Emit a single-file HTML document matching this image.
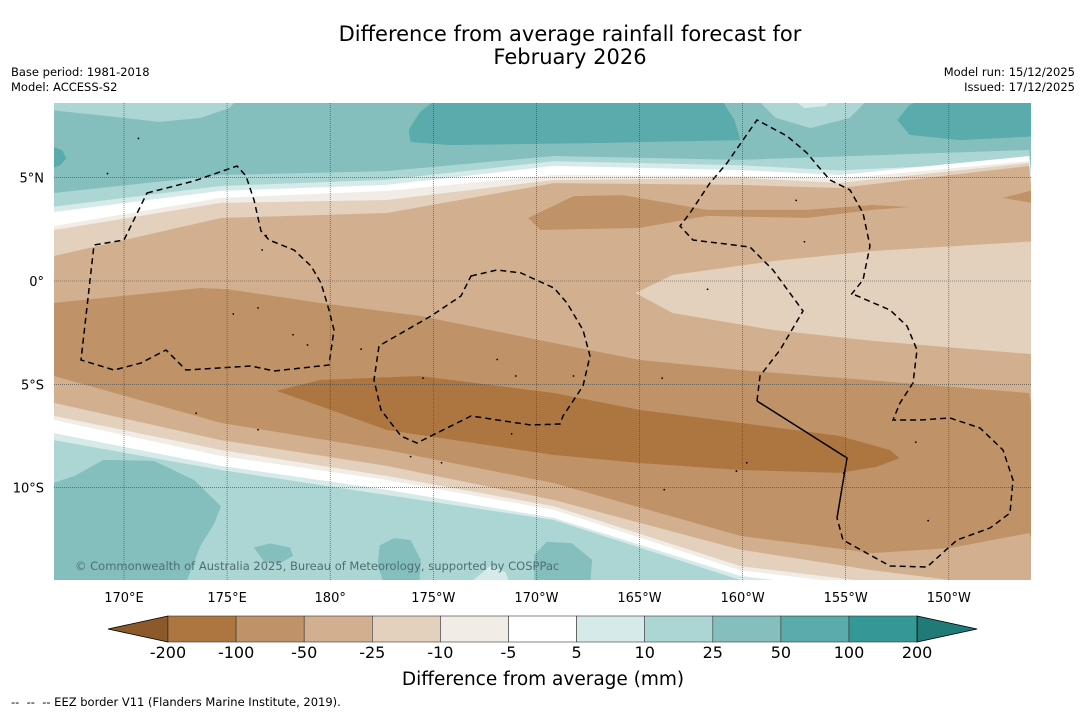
<!DOCTYPE html>
<html><head><meta charset="utf-8">
<style>
body{margin:0;background:#fff;width:1085px;height:713px;overflow:hidden;font-family:"DejaVu Sans","Liberation Sans",sans-serif;}
svg{position:absolute;left:0;top:0;}
</style></head>
<body>
<svg id="chart" width="1085" height="713" viewBox="0 0 1085 713">
<text x="570" y="41" text-anchor="middle" font-size="21" fill="#000">Difference from average rainfall forecast for</text>
<text x="570" y="64" text-anchor="middle" font-size="21" fill="#000">February 2026</text>
<text x="11" y="76" font-size="11.5">Base period: 1981-2018</text>
<text x="11" y="91" font-size="11.5">Model: ACCESS-S2</text>
<text x="1075" y="76" font-size="11.5" text-anchor="end">Model run: 15/12/2025</text>
<text x="1075" y="91" font-size="11.5" text-anchor="end">Issued: 17/12/2025</text>
<defs><clipPath id="mapclip"><rect x="54" y="103" width="977" height="477"/></clipPath></defs>
<g id="map" clip-path="url(#mapclip)"></g>
<g id="eez" clip-path="url(#mapclip)" fill="none" stroke="#000" stroke-width="1.5">
<path stroke-dasharray="6,4" d="M147,193 L194,181 L237,166 L246,176 L254,200 L261,231 L269,240 L294,250 L311,266 L321,283 L329,310 L334,330 L329,365 L274,371 L251,366 L186,370 L166,350 L141,363 L114,370 L81,360 L94,245 L124,240 Z"/>
<path stroke-dasharray="6,4" d="M471,276 L497,270 L521,273 L554,288 L567,303 L583,330 L590,356 L583,386 L563,416 L560,424 L531,425 L471,416 L417,443 L401,436 L381,410 L374,380 L379,346 L384,343 L431,316 L461,296 Z"/>
<path stroke-dasharray="6,4" d="M757,401 L760,376 L780,350 L803,311 L773,270 L750,247 L693,240 L680,226 L690,213 L710,183 L727,163 L750,130 L757,120 L787,136 L807,153 L817,165 L830,180 L850,190 L863,213 L870,246 L863,280 L850,296 M855,295 L890,310 L907,326 L917,350 L913,383 L900,403 L893,420 L920,420 L950,418 L980,428 L1003,450 L1013,480 L1010,513 L990,528 L957,540 L927,567 L890,566 L843,540 L837,518"/>
<path d="M757,401 L847,458 L837,518"/>
</g>
<g id="grid" stroke="#444" stroke-width="0.6" stroke-dasharray="1,1" fill="none"></g>
<g id="islands" fill="#000"></g>
<text x="75" y="570" font-size="11.5" fill="#4e6f70">© Commonwealth of Australia 2025, Bureau of Meteorology, supported by COSPPac</text>
<g id="axes"></g>
<g id="cbar"></g>
<text x="543" y="685" font-size="18.5" text-anchor="middle">Difference from average (mm)</text>
<text x="11" y="706" font-size="11.5">-- &#160;-- &#160;-- EEZ border V11 (Flanders Marine Institute, 2019).</text>
</svg>
<script>
// ---- data (lon in degrees east 0-360, lat in degrees) ----
const lonTicks = [170,175,180,185,190,195,200,205,210];
const lonTickLabels = ["170°E","175°E","180°","175°W","170°W","165°W","160°W","155°W","150°W"];
const latTicks = [5,0,-5,-10];
const latTickLabels = ["5°N","0°","5°S","10°S"];
const levelLabels = ["-200","-100","-50","-25","-10","-5","5","10","25","50","100","200"];
const levelColors = ["#ad7641","#bf9367","#d2b08f","#e3d0bd","#f2ece6","#ffffff","#d6ebe9","#acd6d4","#85bfbd","#5aabab","#349896"];
const extendLow = "#8c5a2a", extendHigh = "#1f7a78";

const cTop1 = [[166.6,4.26],[174.7,5.13],[182.75,5.32],[190.85,6.05],[199.9,5.86],[213.9,6.34]];
const cTop2 = [[166.6,3.6],[174.7,4.6],[182.75,4.9],[190.85,5.8],[199.9,5.6],[204.7,5.35],[213.9,5.8]];
const cTop3 = [[166.6,3.34],[174.7,4.36],[182.75,4.65],[190.85,5.57],[199.9,5.37],[204.7,5.13],[213.9,6.05]];
const cTop4 = [[166.6,2.66],[174.7,4.02],[182.75,4.36],[190.85,5.13],[199.9,5.08],[204.7,4.95],[213.9,5.81]];
const cTop5 = [[166.6,2.47],[174.7,3.78],[182.75,3.92],[190.85,4.89],[199.9,4.99],[204.7,4.75],[213.9,5.71]];
const cTop6 = [[166.6,1.21],[174.7,3.05],[182.75,3.29],[190.85,4.74],[199.9,4.65],[204.7,4.5],[213.9,5.57]];
const cMid1 = [[166.6,-1.06],[173.7,-0.34],[175,-0.39],[179.5,-1.06],[184.35,-1.69],[190.85,-3.0],[195,-3.82],[199.9,-4.31],[204.7,-4.69],[213.9,-5.42]];
const cMid2 = [[166.6,-4.6],[174.7,-6.87],[182.75,-8.18],[190.85,-9.78],[199.9,-12.34],[206.3,-13.17],[210.05,-12.93],[213.9,-12.2]];
const cBot1 = [[166.6,-5.9],[174.7,-7.7],[182.75,-8.95],[190.85,-10.6],[199.9,-13.0],[206.3,-14.0],[213.9,-14.96]];
const cBot2 = [[166.6,-6.53],[174.7,-8.18],[182.75,-9.44],[190.85,-10.9],[199.9,-13.8],[213.9,-15.5]];
const cBot3 = [[166.6,-6.73],[174.7,-8.47],[182.75,-9.63],[190.85,-11.08],[199.9,-14.0],[213.9,-15.7]];
const cBot4 = [[166.6,-7.36],[174.7,-8.95],[182.75,-10.1],[190.85,-11.47],[199.9,-14.28],[213.9,-15.9]];
const cBot5 = [[166.6,-7.7],[174.7,-9.15],[182.75,-10.36],[190.85,-11.57],[199.9,-14.47],[213.9,-16.0]];

const blobLight = [[194.8,-0.58],[196.6,0.29],[201.5,0.97],[206.3,1.45],[214.5,1.94],[214.5,-3.58],[206.3,-2.9],[201.5,-2.37],[196.6,-1.55]];
const blobUpperBrown = [[189.6,3.05],[191.8,4.11],[194.2,4.16],[198.3,3.44],[203.1,3.44],[206.3,3.68],[208.1,3.58],[206.3,3.44],[203.1,3.05],[198.3,3.15],[195,2.57],[190.2,2.47]];
const blobRightBrown = [[212.6,4.02],[214.5,4.5],[214.5,3.7]];
const blobDarkBrown = [[177.4,-5.32],[179.5,-4.79],[184.35,-4.6],[190.85,-5.42],[195,-6.24],[199.9,-6.87],[204.7,-7.5],[207.15,-8.18],[207.6,-8.57],[206.5,-9.0],[204.7,-9.29],[199.9,-9.15],[195,-8.81],[190.85,-8.42],[182.75,-7.21],[179.5,-6.05]];
const blobTeal1 = [[183.8,7.3],[184.35,8.18],[185.3,8.9],[198.9,8.9],[199.6,7.8],[199.9,6.82],[193.1,6.68],[185.8,6.58],[183.9,6.73]];
const blobTeal2 = [[207.5,7.8],[208.1,8.52],[209,8.9],[214.5,8.9],[214.5,7.02],[210.55,6.82],[208.1,7.07]];
const blobTeal3 = [[166.3,6.58],[167,6.34],[167.2,5.95],[166.9,5.6],[166.3,5.37]];
const blobTopLeftLight = [[166.3,8.9],[166.3,8.28],[168.8,8.03],[171.7,7.7],[173.7,7.89],[175.1,8.37],[175.6,8.9]];
const blobTopMidLight = [[200.6,8.9],[201.6,7.9],[203.3,7.4],[205.2,7.9],[206.2,8.9]];
const blobTopMidWhite = [[202.3,8.9],[203,8.37],[204,8.47],[204.5,8.9]];
const blobBotBig = [[166.3,-9.87],[167.6,-9.44],[169,-8.66],[171.45,-8.71],[173.4,-9.63],[174.7,-10.9],[174.4,-11.71],[173.7,-12.83],[172.9,-14.9],[166.3,-14.9]];
const blobBot2 = [[176.3,-12.9],[177.1,-12.7],[178.05,-12.9],[178.2,-13.3],[177.6,-13.65],[176.8,-13.6]];
const blobBot3 = [[182.4,-12.8],[183.1,-12.44],[183.9,-12.54],[184.4,-13.5],[184.3,-14.9],[182.7,-14.9],[182.3,-13.75]];
const blobBot4 = [[189.9,-13.26],[190.5,-12.63],[191.7,-12.68],[192.7,-13.5],[192.6,-14.9],[189.9,-14.9]];
const blobBotWhite = [[186.8,-14.6],[187.75,-13.8],[188.5,-14.1],[188.8,-14.9]];
const islandPts = [[176.9,2.2],[176.7,1.5],[175.3,-1.6],[176.5,-1.3],[178.2,-2.6],[178.9,-3.1],[181.5,-3.3],[184.5,-4.7],[188.1,-3.8],[189,-4.6],[191.8,-4.6],[196.1,-4.7],[202.6,3.9],[203,1.9],[198.3,-0.4],[208.4,-7.8],[200.2,-8.8],[199.7,-9.2],[170.7,6.9],[169.2,5.2],[173.5,-6.4],[176.5,-7.2],[183.9,-8.5],[185.4,-8.8],[188.8,-7.4],[196.2,-10.1],[204.9,-9.3],[209,-11.6]];

const X = lon => 124 + (lon - 170) * 20.62;
const Y = lat => 281 - lat * 20.66;
const NS = "http://www.w3.org/2000/svg";
const map = document.getElementById('map');
function ptsStr(arr){ return arr.map(p => X(p[0]).toFixed(1)+','+Y(p[1]).toFixed(1)).join(' '); }
function below(curve, color, name){
  const el = document.createElementNS(NS,'polygon');
  const pts = ptsStr(curve) + ' ' + X(216)+','+Y(-17) + ' ' + X(165)+','+Y(-17);
  el.setAttribute('points', pts);
  el.setAttribute('fill', color);
  
  
  map.appendChild(el);
}
function blob(arr, color, name){
  const el = document.createElementNS(NS,'polygon');
  el.setAttribute('points', ptsStr(arr));
  el.setAttribute('fill', color);
  
  
  map.appendChild(el);
}
const bg = document.createElementNS(NS,'rect');
bg.setAttribute('x',54); bg.setAttribute('y',103); bg.setAttribute('width',977); bg.setAttribute('height',477);
bg.setAttribute('fill','#85bfbd');


map.appendChild(bg);
below(cTop1,'#acd6d4','band-10-25-north');
below(cTop2,'#d6ebe9','band-5-10-north');
below(cTop3,'#ffffff','band-neutral-north');
below(cTop4,'#f2ece6','band-m10-m5-north');
below(cTop5,'#e3d0bd','band-m25-m10-north');
below(cTop6,'#d2b08f','band-m50-m25');
below(cMid1,'#bf9367','band-m100-m50');
below(cMid2,'#d2b08f','band-m50-m25-south');
below(cBot1,'#e3d0bd','band-m25-m10-south');
below(cBot2,'#f2ece6','band-m10-m5-south');
below(cBot3,'#ffffff','band-neutral-south');
below(cBot4,'#d6ebe9','band-5-10-south');
below(cBot5,'#acd6d4','band-10-25-south');
blob(blobLight,'#e3d0bd','blob-light-east');
blob(blobUpperBrown,'#bf9367','blob-brown-north');
blob(blobRightBrown,'#bf9367','blob-brown-edge');
blob(blobDarkBrown,'#ad7641','blob-dark-brown');
blob(blobTeal1,'#5aabab','blob-teal-north-mid');
blob(blobTeal2,'#5aabab','blob-teal-north-east');
blob(blobTeal3,'#5aabab','blob-teal-west');
blob(blobTopLeftLight,'#acd6d4','blob-light-teal-nw');
blob(blobTopMidLight,'#acd6d4','blob-light-teal-n');
blob(blobTopMidWhite,'#d6ebe9','blob-white-n');
blob(blobBotBig,'#85bfbd','blob-teal-sw');
blob(blobBot2,'#85bfbd','blob-teal-s1');
blob(blobBot3,'#85bfbd','blob-teal-s2');
blob(blobBot4,'#85bfbd','blob-teal-s3');
blob(blobBotWhite,'#d6ebe9','blob-pale-s');

const isl = document.getElementById('islands');
islandPts.forEach(p => {
  const c = document.createElementNS(NS,'circle');
  c.setAttribute('cx', X(p[0])); c.setAttribute('cy', Y(p[1])); c.setAttribute('r', 0.9);
  
  
  isl.appendChild(c);
});

const grid = document.getElementById('grid');
const axes = document.getElementById('axes');
lonTicks.forEach((lon,i) => {
  const l = document.createElementNS(NS,'line');
  l.setAttribute('x1',X(lon)); l.setAttribute('x2',X(lon)); l.setAttribute('y1',103); l.setAttribute('y2',580);
  
  
  grid.appendChild(l);
  const t = document.createElementNS(NS,'text');
  t.setAttribute('x',X(lon)); t.setAttribute('y',602); t.setAttribute('text-anchor','middle'); t.setAttribute('font-size','13');
  t.textContent = lonTickLabels[i];
  
  
  axes.appendChild(t);
});
latTicks.forEach((lat,i) => {
  const l = document.createElementNS(NS,'line');
  l.setAttribute('y1',Y(lat)); l.setAttribute('y2',Y(lat)); l.setAttribute('x1',54); l.setAttribute('x2',1031);
  
  
  grid.appendChild(l);
  const t = document.createElementNS(NS,'text');
  t.setAttribute('x',44); t.setAttribute('y',Y(lat)+5); t.setAttribute('text-anchor','end'); t.setAttribute('font-size','13');
  t.textContent = latTickLabels[i];
  
  
  axes.appendChild(t);
});

const cb = document.getElementById('cbar');
const cbX0 = 168, cbW = 68.1, cbY = 616, cbH = 26;
const lowTri = document.createElementNS(NS,'polygon');
lowTri.setAttribute('points', `${cbX0},${cbY} ${cbX0},${cbY+cbH} 108,${cbY+cbH/2}`);
lowTri.setAttribute('fill', extendLow); lowTri.setAttribute('stroke','#000'); lowTri.setAttribute('stroke-width','0.8');


cb.appendChild(lowTri);
levelColors.forEach((col,i) => {
  const r = document.createElementNS(NS,'rect');
  r.setAttribute('x', cbX0 + i*cbW); r.setAttribute('y', cbY); r.setAttribute('width', cbW); r.setAttribute('height', cbH);
  r.setAttribute('fill', col); r.setAttribute('stroke','#333'); r.setAttribute('stroke-width','0.6');
  
  
  cb.appendChild(r);
});
const xEnd = cbX0 + levelColors.length*cbW;
const hiTri = document.createElementNS(NS,'polygon');
hiTri.setAttribute('points', `${xEnd},${cbY} ${xEnd},${cbY+cbH} ${xEnd+60},${cbY+cbH/2}`);
hiTri.setAttribute('fill', extendHigh); hiTri.setAttribute('stroke','#000'); hiTri.setAttribute('stroke-width','0.8');


cb.appendChild(hiTri);
levelLabels.forEach((lab,i) => {
  const t = document.createElementNS(NS,'text');
  t.setAttribute('x', cbX0 + i*cbW); t.setAttribute('y', 658); t.setAttribute('text-anchor','middle'); t.setAttribute('font-size','16');
  t.textContent = lab;
  
  
  cb.appendChild(t);
});
</script>
</body></html>
